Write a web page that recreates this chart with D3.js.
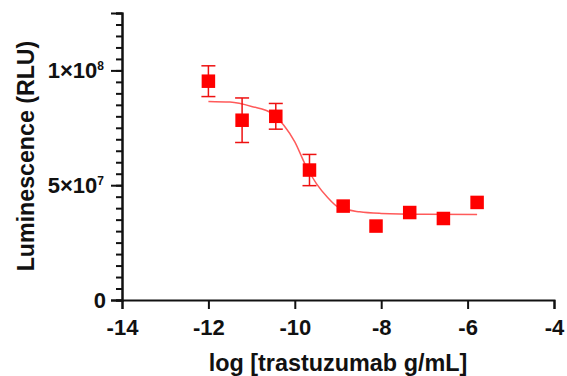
<!DOCTYPE html>
<html>
<head>
<meta charset="utf-8">
<script src="https://cdn.jsdelivr.net/npm/d3@7"></script>
<style>
  body { margin: 0; background: #fff; }
  text { font-family: "Liberation Sans", Arial, sans-serif; font-weight: bold; }
</style>
</head>
<body>
<div id="container"></div>
<script>
/* DATA */
const logConc = [-12.0, -11.22, -10.44, -9.66, -8.88, -8.12, -7.34, -6.56, -5.78];
const lum = [0.953e8, 0.783e8, 0.800e8, 0.566e8, 0.409e8, 0.322e8, 0.381e8, 0.355e8, 0.425e8];
const lumErr = [0.067e8, 0.097e8, 0.056e8, 0.068e8, 0, 0, 0, 0, 0];

// fitted curve
const fitX = [-12, -11.5, -11, -10.5, -10.25, -10, -9.75, -9.5, -9.25, -9, -8.5, -8, -7, -5.78];
const fitY = [0.865e8, 0.862e8, 0.843e8, 0.81e8, 0.76e8, 0.689e8, 0.587e8, 0.507e8, 0.449e8, 0.406e8, 0.384e8, 0.377e8, 0.373e8, 0.372e8];

const xTicks = [-14, -12, -10, -8, -6, -4];
const yTicks = [0, 5e7, 1e8];

/* CONSTANTS */
const width = 567, height = 376;
const margin = { top: 13, bottom: 76, left: 122, right: 13 };

const svg = d3.select("#container")
  .append("svg")
  .attr("width", width)
  .attr("height", height);

// SCALES
const xScale = d3.scaleLinear()
  .domain([-14, -4])
  .range([margin.left, width - margin.right]);

const yScale = d3.scaleLinear()
  .domain([0, 1.25e8])
  .range([height - margin.bottom, margin.top]);

// AXES
const xAxis = d3.axisBottom(xScale)
  .tickValues(xTicks)
  .tickSize(9)
  .tickPadding(10)
  .tickFormat(d => d3.format("d")(d).replace("−", "-"));

const xAxisGroup = svg.append("g")
  .attr("transform", `translate(0, ${height - margin.bottom})`)
  .call(xAxis);

// minor y ticks
const yMinor = d3.axisLeft(yScale)
  .tickValues(d3.range(0, 1.25e8 + 1, 5e6))
  .tickSize(6)
  .tickFormat("");

svg.append("g")
  .attr("transform", `translate(${margin.left}, 0)`)
  .call(yMinor);

const yAxis = d3.axisLeft(yScale)
  .tickValues(yTicks)
  .tickSize(11)
  .tickFormat("");

const yAxisGroup = svg.append("g")
  .attr("transform", `translate(${margin.left}, 0)`)
  .call(yAxis);

svg.selectAll(".domain").attr("stroke-width", 2).attr("stroke", "#111");
svg.selectAll(".tick line").attr("stroke-width", 2).attr("stroke", "#111");

xAxisGroup.selectAll(".tick text")
  .attr("font-size", 22)
  .attr("fill", "#111");

// y tick labels with superscripts
yTicks.forEach(v => {
  const t = svg.append("text")
    .attr("x", v === 0 ? 106 : 104)
    .attr("y", yScale(v) + 8)
    .attr("text-anchor", "end")
    .attr("font-size", 22)
    .attr("fill", "#111");
  if (v === 0) {
    t.text("0");
  } else {
    const exp = Math.floor(Math.log10(v));
    const mant = v / Math.pow(10, exp);
    t.append("tspan").text(mant + "×10");
    t.append("tspan").attr("font-size", 12).attr("dy", -8).text(exp);
  }
});

// AXIS TITLES
svg.append("text")
  .attr("x", 338)
  .attr("y", 371)
  .attr("text-anchor", "middle")
  .attr("font-size", 23.4)
  .attr("fill", "#111")
  .text("log [trastuzumab g/mL]");

svg.append("text")
  .attr("transform", "rotate(-90)")
  .attr("x", -156)
  .attr("y", 33.5)
  .attr("text-anchor", "middle")
  .attr("font-size", 23.2)
  .attr("fill", "#111")
  .text("Luminescence (RLU)");

// FIT LINE
const line = d3.line()
  .x((d, i) => xScale(d))
  .y((d, i) => yScale(fitY[i]))
  .curve(d3.curveMonotoneX);

svg.append("path")
  .datum(fitX)
  .attr("d", line)
  .attr("fill", "none")
  .attr("stroke", "#ff5a5a")
  .attr("stroke-width", 1.5);

// ERROR BARS
const pts = logConc.map((x, i) => ({ x: x, y: lum[i], e: lumErr[i] }));
const eb = svg.append("g")
  .attr("stroke", "#ee1111")
  .attr("stroke-width", 1.5);

pts.filter(d => d.e > 0).forEach(d => {
  const cx = xScale(d.x);
  eb.append("line")
    .attr("x1", cx).attr("x2", cx)
    .attr("y1", yScale(d.y - d.e)).attr("y2", yScale(d.y + d.e));
  [d.y - d.e, d.y + d.e].forEach(v => {
    eb.append("line")
      .attr("x1", cx - 7).attr("x2", cx + 7)
      .attr("y1", yScale(v)).attr("y2", yScale(v));
  });
});

// MARKERS
const s = 13.5;
svg.selectAll("rect.pt")
  .data(pts)
  .join("rect")
  .attr("class", "pt")
  .attr("x", d => xScale(d.x) - s / 2)
  .attr("y", d => yScale(d.y) - s / 2)
  .attr("width", s)
  .attr("height", s)
  .attr("fill", "#ff0000");
</script>
</body>
</html>
